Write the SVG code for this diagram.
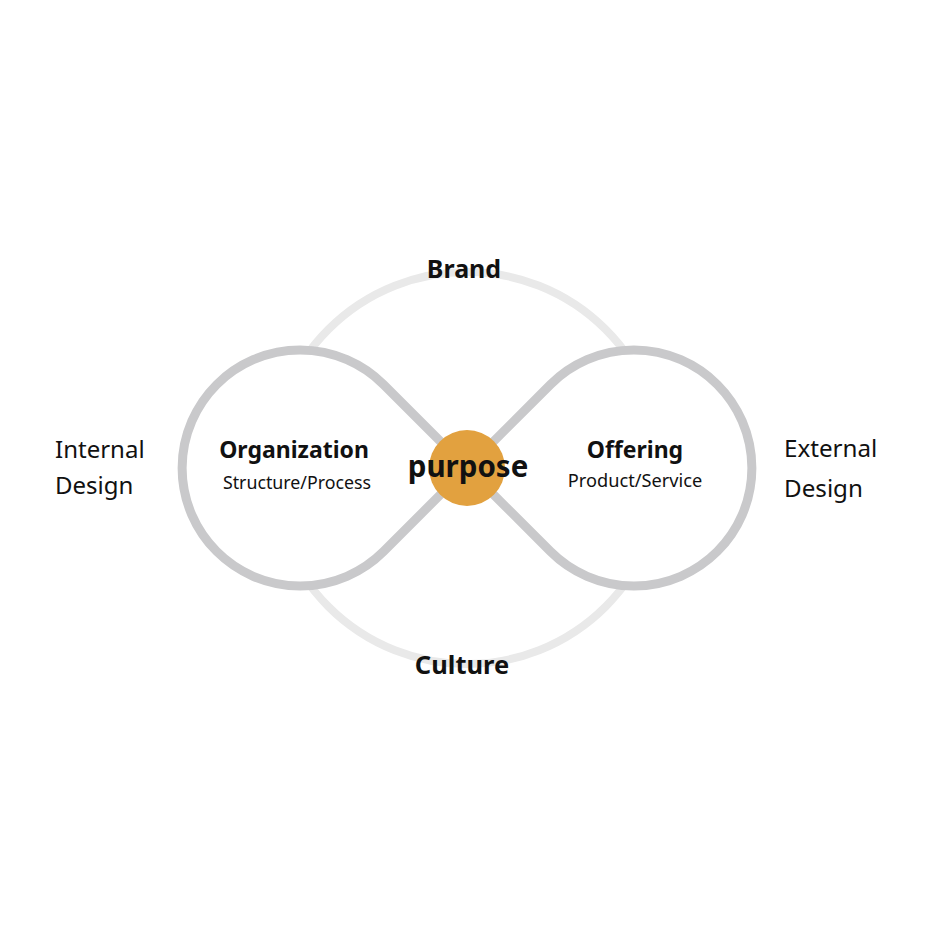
<svg xmlns="http://www.w3.org/2000/svg" width="936" height="937" viewBox="0 0 936 937">
<style>
.bold{font-family:"Noto Sans","Open Sans",sans-serif;font-weight:700;fill:#111}
.reg{font-family:"Noto Sans","Open Sans",sans-serif;font-weight:400;fill:#111}
.ring{fill:none;stroke:#e9e9e9;stroke-width:8}
.loop{fill:#ffffff;stroke:#c9c9cb;stroke-width:9}
</style>
<rect width="936" height="937" fill="#ffffff"/>
<g id="connectors">
<circle class="ring" cx="467" cy="468" r="196"/>
<path class="loop" d="M467,468 L383.5,384.5 A118,118 0 1 0 383.5,551.5 L467,468 L550.5,384.5 A118,118 0 1 1 550.5,551.5 Z"/>
</g>
<g id="purpose">
<circle cx="467" cy="468" r="38" fill="#e2a13f"/>
<text class="bold" x="468" y="477" font-size="29.5" text-anchor="middle">purpose</text>
</g>
<g id="brand"><text class="bold" x="464" y="278" font-size="25" text-anchor="middle">Brand</text></g>
<g id="culture"><text class="bold" x="462" y="674" font-size="25.5" text-anchor="middle">Culture</text></g>
<g id="organization">
<text class="bold" x="294" y="458" font-size="23" text-anchor="middle">Organization</text>
<text class="reg" x="297" y="489" font-size="17.8" text-anchor="middle">Structure/Process</text>
</g>
<g id="offering">
<text class="bold" x="635" y="458" font-size="23" text-anchor="middle">Offering</text>
<text class="reg" x="635" y="487" font-size="18.2" text-anchor="middle">Product/Service</text>
</g>
<g id="internal">
<text class="reg" x="55" y="458" font-size="24">Internal</text>
<text class="reg" x="55" y="494" font-size="24">Design</text>
</g>
<g id="external">
<text class="reg" x="784" y="457" font-size="24.2">External</text>
<text class="reg" x="784" y="497" font-size="24.2">Design</text>
</g>
</svg>
